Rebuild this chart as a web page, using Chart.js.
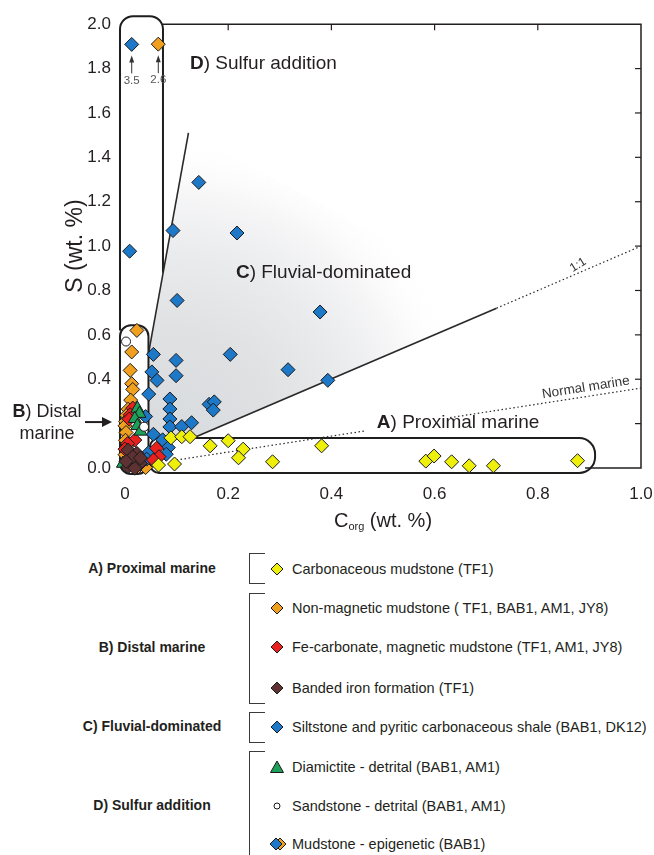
<!DOCTYPE html>
<html><head><meta charset="utf-8">
<script src="https://cdn.jsdelivr.net/npm/chart.js@4.4.0/dist/chart.umd.min.js"></script>
<style>
html,body{margin:0;padding:0;background:#fff;}
body{width:654px;height:855px;position:relative;overflow:hidden;font-family:'Liberation Sans',Arial,Helvetica,sans-serif;color:#231f20;}
#wrap{position:absolute;left:0;top:0;width:654px;height:540px;}
.grp{position:absolute;left:152px;font-weight:bold;font-size:14px;transform:translate(-50%,-50%);white-space:nowrap;}
.brk{position:absolute;left:249px;width:15px;border:1.3px solid #3a3a3a;border-right:none;}
.item{position:absolute;left:292px;font-size:14.5px;transform:translateY(-50%);white-space:nowrap;}
.mk{position:absolute;left:269px;width:18px;height:16px;transform:translateY(-50%);}
</style></head>
<body>
<div id="wrap"><canvas id="c" width="654" height="540"></canvas></div>

<div class="grp" style="top:568px">A) Proximal marine</div>
<div class="grp" style="top:647px">B) Distal marine</div>
<div class="grp" style="top:726px">C) Fluvial-dominated</div>
<div class="grp" style="top:805px">D) Sulfur addition</div>

<div class="brk" style="top:553px;height:29px"></div>
<div class="brk" style="top:593px;height:109px"></div>
<div class="brk" style="top:712px;height:29px"></div>
<div class="brk" style="top:751px;height:140px"></div>

<div id="legend"></div>

<script>
// ---------------- DATA ----------------
const xTickLabels = ['0', '0.2', '0.4', '0.6', '0.8', '1.0'];
const yTickLabels = ['0.0', '', '0.4', '0.6', '0.8', '1.0', '1.2', '1.4', '1.6', '1.8', '2.0'];

// A) Proximal marine - Carbonaceous mudstone (TF1)  [Corg, S]
const carbMudstone = [[0.065,0.013],[0.096,0.018],[0.089,0.136],[0.110,0.141],[0.126,0.141],[0.165,0.100],[0.200,0.123],[0.229,0.085],[0.220,0.046],[0.286,0.028],[0.381,0.100],[0.583,0.031],[0.599,0.054],[0.633,0.028],[0.667,0.010],[0.714,0.010],[0.877,0.033]];
// B) Distal marine
const nonMagMudstone = [[0.023,0.620],[0.013,0.523],[0.010,0.440],[0.013,0.380],[0.015,0.354],[0.011,0.306],[0.006,0.265],[0.003,0.238],[0.001,0.210],[0.000,0.190],[0.002,0.160],[0.001,0.125],[0.003,0.095],[0.000,0.060],[0.026,0.006],[0.040,0.002]];
const feCarbonate = [[0.015,0.270],[0.010,0.240],[0.008,0.220],[0.019,0.126],[0.005,0.110],[0.000,0.085],[0.061,0.089],[0.066,0.051],[0.055,0.036],[0.012,0.050],[0.030,0.020]];
const bandedIron = [[0.006,0.081],[0.023,0.066],[0.010,0.036],[0.029,0.021],[0.006,0.006],[0.019,-0.001],[0.015,0.050],[0.030,0.045],[0.002,0.030]];
// C) Fluvial-dominated
const siltstone = [[0.143,1.287],[0.093,1.070],[0.217,1.059],[0.009,0.977],[0.101,0.755],[0.378,0.703],[0.204,0.512],[0.316,0.443],[0.393,0.395],[0.055,0.512],[0.099,0.485],[0.052,0.433],[0.062,0.395],[0.099,0.416],[0.046,0.333],[0.087,0.311],[0.087,0.266],[0.087,0.221],[0.040,0.232],[0.087,0.185],[0.110,0.187],[0.129,0.204],[0.163,0.287],[0.173,0.298],[0.171,0.261],[0.055,0.152],[0.073,0.127],[0.084,0.092],[0.046,0.070],[0.042,0.040],[0.080,0.062]];
// D) Sulfur addition
const diamictite = [[0.024,0.268],[0.028,0.245],[0.019,0.222],[0.024,0.190],[0.030,0.165],[-0.004,0.020]];
const sandstone = [[0.002,0.570],[0.037,0.186]];
const epigenetic = [[0.013,1.909],[0.0645,1.910]];
const epigeneticTrueS = ['3.5', '2.6'];

// reference lines [Corg, S]
const oneToOneSolid = [[0.132,0.135],[0.72,0.72]];
const oneToOneDotted = [[0.72,0.72],[1.0,1.0]];
const steepLine = [[0.0455,0.515],[0.123,1.51]];
const normalMarineA = [[0.10,0.036],[0.465,0.167]];
const normalMarineB = [[0.63,0.227],[1.0,0.36]];

// ---------------- STYLE ----------------
const FONT = "'Liberation Sans', Arial, Helvetica, sans-serif";
const TXT = '#231f20';
const C = { yellow:'#eef00c', orange:'#f0a01e', red:'#e8201e', bif:'#5e3232', blue:'#1e78c8', green:'#1fa05a' };
const pts = a => a.map(([x, y]) => ({x, y}));

function markerDS(label, arr, color, order, extra) {
  return Object.assign({
    label, data: pts(arr), order, clip: false,
    pointStyle: 'rectRot', pointRadius: 7, pointHoverRadius: 7,
    backgroundColor: color, borderColor: '#1a1a1a', borderWidth: 1, showLine: false
  }, extra || {});
}
function lineDS(arr, dash, width) {
  return { data: pts(arr), showLine: true, pointRadius: 0, borderColor: '#2a2a2a', borderWidth: width,
    borderDash: dash, order: 100, clip: false, fill: false };
}

// region boxes in data units
const boxD = { x0: -0.0097, x1: 0.0736, top: 2.036, rightBottom: 0.88, leftBottom: 0.62 };
const boxB = { x0: -0.0097, x1: 0.0455, top: 0.643, bottom: -0.027 };
const boxA = { x0: 0.0484, x1: 0.911, top: 0.135, bottom: -0.022 };
const wedge = [[0.0455,0.515],[0.123,1.51],[0.74,0.74],[0.132,0.135],[0.0455,0.135]];

function richText(ctx, parts, x, y, size, align) {
  let w = 0;
  parts.forEach(p => { ctx.font = (p.b ? 'bold ' : '') + size + 'px ' + FONT; p.w = ctx.measureText(p.t).width; w += p.w; });
  let cx = align === 'center' ? x - w / 2 : x;
  ctx.textBaseline = 'middle'; ctx.textAlign = 'left';
  parts.forEach(p => { ctx.font = (p.b ? 'bold ' : '') + size + 'px ' + FONT; ctx.fillText(p.t, cx, y); cx += p.w; });
}

const decor = {
  id: 'decor',
  beforeDatasetsDraw(chart) {
    const {ctx, scales: {x, y}, chartArea} = chart;
    const X = v => x.getPixelForValue(v), Y = v => y.getPixelForValue(v);
    ctx.save();
    // shaded fluvial wedge
    const gx = X(0.09), gy = Y(0.15);
    const g = ctx.createRadialGradient(gx, gy, 0, gx, gy, 300);
    g.addColorStop(0, 'rgba(216,219,222,1)');
    g.addColorStop(0.35, 'rgba(223,225,227,1)');
    g.addColorStop(0.6, 'rgba(234,235,237,1)');
    g.addColorStop(0.8, 'rgba(246,246,247,1)');
    g.addColorStop(1, 'rgba(255,255,255,0)');
    ctx.beginPath();
    wedge.forEach(([a, b], i) => i ? ctx.lineTo(X(a), Y(b)) : ctx.moveTo(X(a), Y(b)));
    ctx.closePath(); ctx.fillStyle = g; ctx.fill();

    // frame
    ctx.strokeStyle = TXT; ctx.lineWidth = 1.5;
    ctx.beginPath();
    ctx.moveTo(X(boxD.x1), Y(2)); ctx.lineTo(X(1), Y(2)); ctx.lineTo(X(1), Y(0)); ctx.lineTo(X(boxA.x1) - 10, Y(0));
    ctx.stroke();
    ctx.lineWidth = 1.2;
    for (let i = 1; i < xTickLabels.length - 1; i++) {
      const v = i * 0.2; ctx.beginPath(); ctx.moveTo(X(v), Y(2)); ctx.lineTo(X(v), Y(2) + 6); ctx.stroke();
    }
    for (let i = 1; i < yTickLabels.length - 1; i++) {
      const v = i * 0.2; ctx.beginPath(); ctx.moveTo(X(1), Y(v)); ctx.lineTo(X(1) - 6, Y(v)); ctx.stroke();
    }

    // boxes
    ctx.lineWidth = 2; ctx.strokeStyle = '#1e1e1e';
    let r = 13;
    ctx.beginPath();
    ctx.moveTo(X(boxD.x1), Y(boxD.rightBottom));
    ctx.arcTo(X(boxD.x1), Y(boxD.top), X(boxD.x0), Y(boxD.top), r);
    ctx.arcTo(X(boxD.x0), Y(boxD.top), X(boxD.x0), Y(boxD.leftBottom), r);
    ctx.lineTo(X(boxD.x0), Y(boxD.leftBottom));
    ctx.stroke();
    ctx.beginPath(); ctx.roundRect(X(boxB.x0), Y(boxB.top), X(boxB.x1) - X(boxB.x0), Y(boxB.bottom) - Y(boxB.top), 11); ctx.stroke();
    ctx.beginPath(); ctx.roundRect(X(boxA.x0), Y(boxA.top), X(boxA.x1) - X(boxA.x0), Y(boxA.bottom) - Y(boxA.top), [9, 16, 16, 9]); ctx.stroke();
    ctx.restore();
  },
  afterDatasetsDraw(chart) {
    const {ctx, scales: {x, y}, chartArea} = chart;
    const X = v => x.getPixelForValue(v), Y = v => y.getPixelForValue(v);
    ctx.save();
    ctx.fillStyle = TXT;
    richText(ctx, [{t:'D', b:true}, {t:') Sulfur addition'}], X(0.126), Y(1.82), 19);
    richText(ctx, [{t:'C', b:true}, {t:') Fluvial-dominated'}], X(0.215), Y(0.881), 19);
    richText(ctx, [{t:'A', b:true}, {t:') Proximal marine'}], X(0.488), Y(0.202), 19);
    richText(ctx, [{t:'B', b:true}, {t:') Distal'}], 47, Y(0.25), 18, 'center');
    richText(ctx, [{t:'marine'}], 47, Y(0.152), 18, 'center');
    const ay = Y(0.207);
    ctx.strokeStyle = TXT; ctx.lineWidth = 2;
    ctx.beginPath(); ctx.moveTo(85, ay); ctx.lineTo(103, ay); ctx.stroke();
    ctx.beginPath(); ctx.moveTo(112, ay); ctx.lineTo(102, ay - 5); ctx.lineTo(102, ay + 5); ctx.closePath(); ctx.fill();

    ctx.lineWidth = 1; ctx.strokeStyle = '#333'; ctx.fillStyle = '#333';
    epigenetic.forEach(([a, b], i) => {
      const px = X(a), py = Y(b);
      ctx.beginPath(); ctx.moveTo(px, py + 29); ctx.lineTo(px, py + 15); ctx.stroke();
      ctx.beginPath(); ctx.moveTo(px, py + 11); ctx.lineTo(px - 2.5, py + 18); ctx.lineTo(px + 2.5, py + 18); ctx.closePath(); ctx.fill();
      ctx.font = '11.5px ' + FONT; ctx.fillStyle = '#555'; ctx.textAlign = 'center'; ctx.textBaseline = 'middle';
      ctx.fillText(epigeneticTrueS[i], px, py + 36);
      ctx.fillStyle = '#333';
    });

    ctx.fillStyle = '#333'; ctx.textAlign = 'center'; ctx.textBaseline = 'middle';
    ctx.save(); ctx.translate(X(0.878), Y(0.915)); ctx.rotate(-32 * Math.PI / 180);
    ctx.font = '12px ' + FONT; ctx.fillText('1:1', 0, 0); ctx.restore();
    ctx.save(); ctx.translate(X(0.893), Y(0.362)); ctx.rotate(-9 * Math.PI / 180);
    ctx.font = '13.5px ' + FONT; ctx.fillText('Normal marine', 0, 0); ctx.restore();

    ctx.fillStyle = TXT;
    const cx = (chartArea.left + chartArea.right) / 2, ty = 521;
    ctx.font = '20px ' + FONT; const w1 = ctx.measureText('C').width; const w3 = ctx.measureText(' (wt. %)').width;
    ctx.font = '11px ' + FONT; const w2 = ctx.measureText('org').width;
    let sx = cx - (w1 + w2 + w3) / 2;
    ctx.textAlign = 'left'; ctx.textBaseline = 'middle';
    ctx.font = '20px ' + FONT; ctx.fillText('C', sx, ty); sx += w1;
    ctx.font = '11px ' + FONT; ctx.fillText('org', sx, ty + 6); sx += w2;
    ctx.font = '20px ' + FONT; ctx.fillText(' (wt. %)', sx, ty);
    ctx.restore();
  }
};

new Chart(document.getElementById('c'), {
  type: 'scatter',
  data: {
    datasets: [
      markerDS('Carbonaceous mudstone (TF1)', carbMudstone, C.yellow, 1),
      markerDS('Non-magnetic mudstone ( TF1, BAB1, AM1, JY8)', nonMagMudstone, C.orange, 7),
      markerDS('Fe-carbonate, magnetic mudstone (TF1, AM1, JY8)', feCarbonate, C.red, 5),
      markerDS('Banded iron formation (TF1)', bandedIron, C.bif, 2),
      markerDS('Siltstone and pyritic carbonaceous shale (BAB1, DK12)', siltstone, C.blue, 6),
      markerDS('Diamictite - detrital (BAB1, AM1)', diamictite, C.green, 4, {pointStyle:'triangle', pointRadius:7.5, pointHoverRadius:7.5}),
      markerDS('Sandstone - detrital (BAB1, AM1)', sandstone, '#ffffff', 3, {pointStyle:'circle', pointRadius:4.5, pointHoverRadius:4.5}),
      markerDS('Mudstone - epigenetic (BAB1)', epigenetic, [C.blue, C.orange], 0),
      lineDS(oneToOneSolid, [], 1.8),
      lineDS(oneToOneDotted, [1.5, 2.5], 1.2),
      lineDS(steepLine, [], 1.6),
      lineDS(normalMarineA, [1.5, 2.5], 1.2),
      lineDS(normalMarineB, [1.5, 2.5], 1.2)
    ]
  },
  options: {
    responsive: false, animation: false, events: [],
    layout: { padding: { left: 0, right: 0, top: 23, bottom: 0 } },
    plugins: { legend: { display: false }, tooltip: { enabled: false } },
    scales: {
      x: {
        type: 'linear', min: 0, max: 1,
        grid: { display: false, drawTicks: false }, border: { display: false },
        ticks: { stepSize: 0.2, padding: 16, autoSkip: false, maxRotation: 0, color: TXT,
          font: { family: FONT, size: 17 }, callback: (v, i) => xTickLabels[i] },
        afterFit: s => { s.height = 72; s.paddingRight = 13; }
      },
      y: {
        type: 'linear', min: 0, max: 2,
        grid: { display: false, drawTicks: false }, border: { display: false },
        ticks: { stepSize: 0.2, padding: 14, autoSkip: false, color: TXT,
          font: { family: FONT, size: 17 }, callback: (v, i) => yTickLabels[i] },
        title: { display: true, text: 'S (wt. %)', color: TXT, font: { family: FONT, size: 23 }, padding: { top: 62, bottom: 0 } },
        afterFit: s => { s.width = 125; }
      }
    }
  },
  plugins: [decor]
});

// ---------------- HTML legend ----------------
const legendItems = [
  ['Carbonaceous mudstone (TF1)', 'diamond', C.yellow, 569],
  ['Non-magnetic mudstone ( TF1, BAB1, AM1, JY8)', 'diamond', C.orange, 608],
  ['Fe-carbonate, magnetic mudstone (TF1, AM1, JY8)', 'diamond', C.red, 647],
  ['Banded iron formation (TF1)', 'diamond', C.bif, 688],
  ['Siltstone and pyritic carbonaceous shale (BAB1, DK12)', 'diamond', C.blue, 727],
  ['Diamictite - detrital (BAB1, AM1)', 'triangle', C.green, 767],
  ['Sandstone - detrital (BAB1, AM1)', 'circle', '#ffffff', 806],
  ['Mudstone - epigenetic (BAB1)', 'epi', null, 844]
];
function markerSVG(type, color) {
  const dia = (cx, col) => `<polygon points="${cx},2 ${cx+6},8 ${cx},14 ${cx-6},8" fill="${col}" stroke="#1a1a1a" stroke-width="1"/>`;
  let inner = '';
  if (type === 'diamond') inner = dia(8, color);
  else if (type === 'triangle') inner = `<polygon points="8,2 14.5,13.5 1.5,13.5" fill="${color}" stroke="#1a1a1a" stroke-width="1"/>`;
  else if (type === 'circle') inner = `<circle cx="8" cy="8" r="3" fill="#fff" stroke="#1a1a1a" stroke-width="1"/>`;
  else inner = dia(11, C.orange) + dia(7, C.blue);
  return `<svg width="18" height="16" viewBox="0 0 18 16">${inner}</svg>`;
}
const lg = document.getElementById('legend');
legendItems.forEach(([label, type, color, top]) => {
  const m = document.createElement('div'); m.className = 'mk'; m.style.top = top + 'px'; m.innerHTML = markerSVG(type, color); lg.appendChild(m);
  const t = document.createElement('div'); t.className = 'item'; t.style.top = top + 'px'; t.textContent = label; lg.appendChild(t);
});
</script>
</body></html>
